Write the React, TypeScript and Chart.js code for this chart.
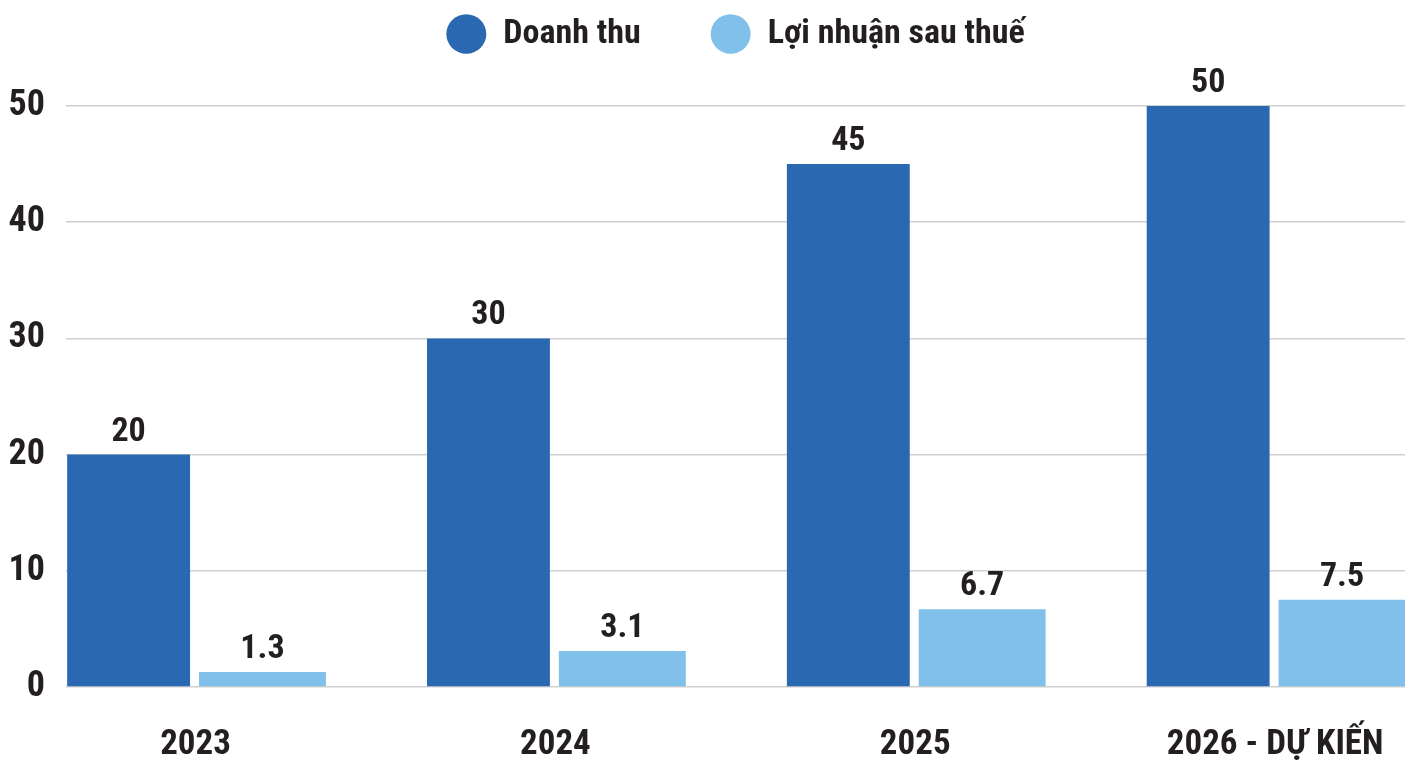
import React, { useEffect, useRef } from "react";
import { Chart, registerables } from "chart.js";

Chart.register(...registerables);

const categories = ["2023", "2024", "2025", "2026 - DỰ KIẾN"];
const revenue = [20, 30, 45, 50];
const profit = [1.3, 3.1, 6.7, 7.5];
const yTicks = [0, 10, 20, 30, 40, 50];
const seriesNames = ["Doanh thu", "Lợi nhuận sau thuế"];

const FONT = "'Roboto Condensed', 'Open Sans Condensed', 'DejaVu Sans Condensed', sans-serif";
const TEXT = "#231f20";
const DARK = "#2a69b2";
const LIGHT = "#80c0ea";

const LEGEND_PAD = 70;

const valueLabels = {
  id: "valueLabels",
  afterInit(chart: any) {
    const legend = chart.legend;
    if (legend) {
      const orig = legend.fit;
      legend.fit = function () {
        orig.call(this);
        this.height = 159;
      };
    }
  },
  afterDatasetsDraw(chart: any) {
    const ctx = chart.ctx;
    ctx.save();
    ctx.font = `bold 34px ${FONT}`;
    ctx.fillStyle = TEXT;
    ctx.textAlign = "center";
    ctx.textBaseline = "alphabetic";
    chart.data.datasets.forEach((ds: any, di: number) => {
      const meta = chart.getDatasetMeta(di);
      meta.data.forEach((bar: any, i: number) => {
        const v = ds.data[i].y;
        ctx.fillText(String(v), bar.x, bar.y - 14);
      });
    });
    ctx.restore();
  },
};

export default function App() {
  const ref = useRef<HTMLCanvasElement>(null);
  useEffect(() => {
    if (!ref.current) return;
    const chart = new Chart(ref.current, {
      type: "bar",
      data: {
        datasets: [
          {
            label: seriesNames[0],
            data: revenue.map((v, i) => ({ x: i, y: v })),
            backgroundColor: DARK,
            categoryPercentage: 0.744,
            barPercentage: 0.918,
          },
          {
            label: seriesNames[1],
            data: profit.map((v, i) => ({ x: i, y: v })),
            backgroundColor: LIGHT,
            categoryPercentage: 0.744,
            barPercentage: 0.948,
          },
        ],
      },
      options: {
        responsive: false,
        animation: false,
        devicePixelRatio: 1,
        layout: { padding: { left: 0, right: 10, top: -53, bottom: 0 } },
        plugins: {
          tooltip: { enabled: false },
          legend: {
            display: true,
            position: "top",
            fullSize: false,
            labels: {
              usePointStyle: true,
              pointStyle: "circle",
              pointStyleWidth: 40,
              boxHeight: 28,
              padding: LEGEND_PAD,
              color: TEXT,
              font: { family: FONT, size: 34, weight: "bold" },
            },
          },
        },
        scales: {
          x: {
            type: "linear",
            min: -0.36,
            max: 3.361,
            offset: false,
            grid: { display: false, drawTicks: false },
            border: { display: false },
            afterFit: (axis: any) => {
              axis.height = 75;
              axis.paddingLeft = 0;
              axis.paddingRight = 0;
            },
            ticks: {
              stepSize: 1,
              includeBounds: false,
              autoSkip: false,
              maxRotation: 0,
              padding: 37,
              color: TEXT,
              font: { family: FONT, size: 35, weight: "bold" },
              callback: (v: any) => categories[v] ?? "",
            },
          },
          y: {
            min: yTicks[0],
            max: yTicks[yTicks.length - 1],
            grid: { color: "#cfcfcf", lineWidth: 1.5, drawTicks: false },
            border: { display: false },
            afterBuildTicks: (axis: any) => {
              axis.ticks = yTicks.map((v) => ({ value: v }));
            },
            afterFit: (axis: any) => {
              axis.width = 66;
              axis.paddingTop = 0;
              axis.paddingBottom = 0;
            },
            ticks: {
              padding: 21,
              color: TEXT,
              font: { family: FONT, size: 36, weight: "bold" },
            },
          },
        },
      },
      plugins: [valueLabels],
    });
    return () => chart.destroy();
  }, []);
  return (
    <div style={{ position: "fixed", left: 0, top: 0, width: 1415, height: 762, background: "#fff", overflow: "hidden" }}>
      <canvas ref={ref} width={1415} height={762} style={{ width: 1415, height: 762, display: "block" }} />
    </div>
  );
}
